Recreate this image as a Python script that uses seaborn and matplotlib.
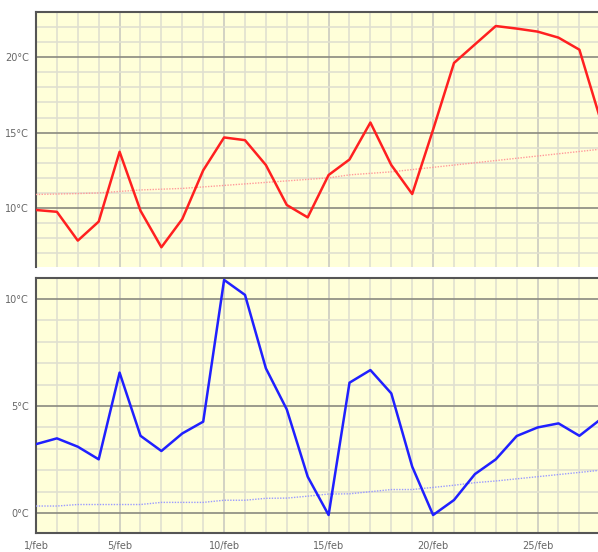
import matplotlib
matplotlib.use('Agg')
import matplotlib.pyplot as plt
import seaborn as sns
import pandas as pd
from matplotlib.ticker import MultipleLocator, FixedLocator

days = list(range(1, 29))
day_ticks = [1, 5, 10, 15, 20, 25]
day_labels = ['1/feb', '5/feb', '10/feb', '15/feb', '20/feb', '25/feb']

max_temp = [9.87, 9.75, 7.84, 9.1, 13.73, 9.82, 7.4, 9.27, 12.5, 14.68,
            14.5, 12.85, 10.2, 9.38, 12.19, 13.22, 15.67, 12.85, 10.93, 15.2,
            19.62, 20.85, 22.07, 21.9, 21.7, 21.3, 20.5, 15.9]
max_normal = [10.9, 10.93, 10.96, 11.0, 11.1, 11.2, 11.25, 11.3, 11.4, 11.5,
              11.6, 11.7, 11.8, 11.9, 12.0, 12.2, 12.3, 12.4, 12.55, 12.7,
              12.85, 13.0, 13.15, 13.3, 13.45, 13.6, 13.75, 13.9]

min_temp = [3.22, 3.49, 3.1, 2.51, 6.56, 3.61, 2.9, 3.72, 4.27, 10.89,
            10.19, 6.76, 4.84, 1.7, -0.09, 6.09, 6.68, 5.59, 2.17, -0.09,
            0.61, 1.82, 2.51, 3.6, 4.0, 4.19, 3.61, 4.37]
min_normal = [0.33, 0.33, 0.4, 0.4, 0.4, 0.4, 0.5, 0.5, 0.5, 0.6,
              0.6, 0.69, 0.7, 0.79, 0.89, 0.9, 1.0, 1.1, 1.1, 1.2,
              1.3, 1.42, 1.5, 1.6, 1.7, 1.8, 1.9, 2.0]

df = pd.DataFrame({'day': days, 'max': max_temp, 'max_normal': max_normal,
                   'min': min_temp, 'min_normal': min_normal})

sns.set_style('white')
plt.rcParams['font.family'] = ['DejaVu Sans']

fig = plt.figure(figsize=(5.98, 5.52), dpi=100)
ax_top = fig.add_axes([36 / 598, 1 - 267 / 552, 562 / 598, 255 / 552])
ax_bot = fig.add_axes([36 / 598, 1 - 533 / 552, 562 / 598, 255 / 552])

bg = '#ffffd9'


def style_axis(ax, ylim, yticks, show_x):
    ax.set_facecolor(bg)
    ax.set_xlim(1, 27.89)
    ax.set_ylim(*ylim)
    ax.xaxis.set_major_locator(FixedLocator(day_ticks))
    ax.xaxis.set_minor_locator(MultipleLocator(1))
    ax.yaxis.set_major_locator(FixedLocator(yticks))
    ax.yaxis.set_minor_locator(MultipleLocator(1))
    ax.grid(which='minor', color='#e0e0d0', lw=1.2, zorder=0)
    ax.grid(which='major', axis='x', color='#d2d2c4', lw=1.4, zorder=0)
    ax.grid(which='major', axis='y', color='#8a8a80', lw=1.2, zorder=0)
    ax.set_axisbelow(True)
    ax.set_yticklabels([f'{t}°C' for t in yticks], fontsize=7, color='#666666')
    if show_x:
        ax.set_xticklabels(day_labels, fontsize=7, color='#666666')
    else:
        ax.set_xticklabels([])
        ax.tick_params(axis='x', which='major', length=0)
    ax.tick_params(axis='both', which='major', length=3, width=1, color='#555555', pad=2)
    if show_x:
        ax.tick_params(axis='x', which='major', pad=3)
    ax.tick_params(axis='both', which='minor', length=0)
    ax.spines['right'].set_visible(False)
    for s in ['top', 'left', 'bottom']:
        ax.spines[s].set_color('#555555')
        ax.spines[s].set_linewidth(1.5)
    if not show_x:
        ax.spines['bottom'].set_visible(False)
    ax.set_xlabel('')
    ax.set_ylabel('')


sns.lineplot(data=df, x='day', y='max_normal', ax=ax_top, color='#ff9a9a',
             lw=1.0, linestyle=(0, (1, 1)), zorder=3)
sns.lineplot(data=df, x='day', y='max', ax=ax_top, color='#ff2020', lw=1.8, zorder=4)
style_axis(ax_top, (6.09, 23.0), [10, 15, 20], False)

sns.lineplot(data=df, x='day', y='min_normal', ax=ax_bot, color='#9a9aff',
             lw=1.0, linestyle=(0, (1, 1)), zorder=3)
sns.lineplot(data=df, x='day', y='min', ax=ax_bot, color='#2020ff', lw=1.8, zorder=4)
style_axis(ax_bot, (-0.93, 10.98), [0, 5, 10], True)

fig.savefig('out.png', dpi=100)
plt.close(fig)
